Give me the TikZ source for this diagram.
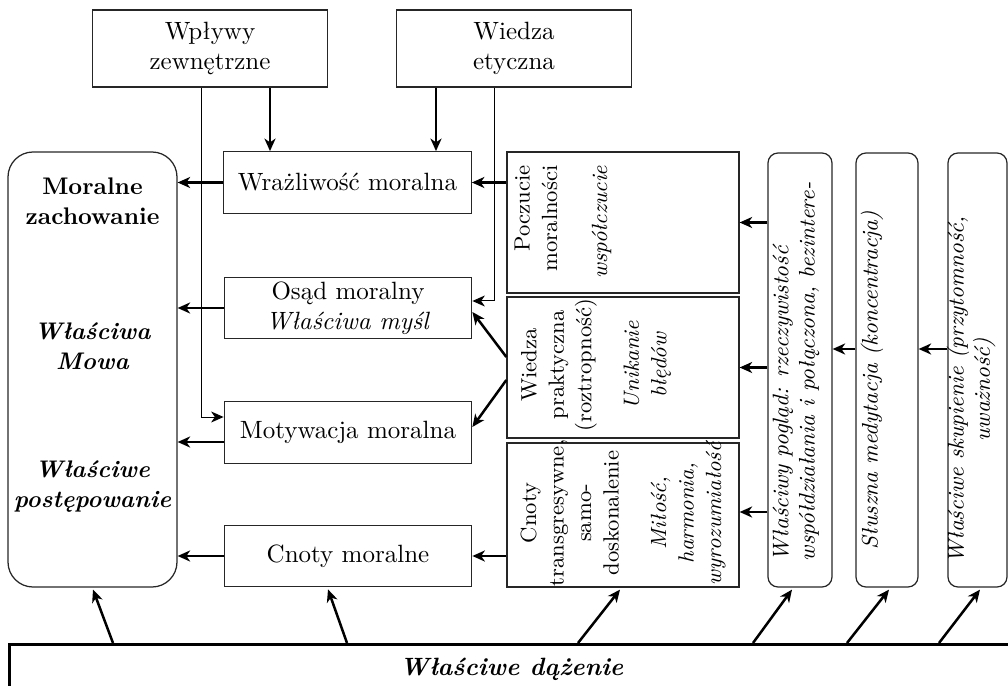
\documentclass[tikz,border=0pt]{standalone}
\usepackage{tikz}
\usetikzlibrary{arrows.meta, positioning, calc}
\tikzset{
  box_plain/.style={draw=black!85, line width=0.5pt, inner sep=0pt, align=center},
  box_round/.style={box_plain, rounded corners=4pt},
  top_box/.style={box_plain, minimum width=94pt, minimum height=30.8pt},
  mid_box/.style={box_plain, minimum width=99pt, minimum height=24.6pt},
  col_box/.style={box_plain, minimum width=92.8pt},
  path_box/.style={box_round, minimum width=25pt, minimum height=173.6pt},
  rot_text/.style={rotate=90, align=center, inner sep=0pt, font=\fontsize{8.8pt}{11pt}\selectfont},
  rot_italic/.style={rot_text, font=\fontsize{9pt}{10.5pt}\selectfont\itshape},
  morale_text/.style={align=center, font=\fontsize{9.6pt}{12pt}\selectfont\bfseries},
  morale_italic/.style={morale_text, font=\fontsize{9.6pt}{12pt}\selectfont\bfseries\itshape},
  arrow_thick/.style={line width=1pt, -{Stealth[length=5pt, width=4.4pt, inset=1.5pt]}},
  arrow_thin/.style={line width=0.4pt, -{Stealth[length=5pt, width=4.4pt, inset=1.5pt]}}
}

\begin{document}
\begin{tikzpicture}[x=0.4pt, y=-0.4pt]
\useasboundingbox (0,0) rectangle (1008,686);
% sources at the top
\node[top_box] (wplywy_node) at (210,48.5) {Wpływy\\zewnętrzne};
\node[top_box] (wiedza_node) at (514,48.5) {Wiedza\\etyczna};
% behaviour block
\node[box_plain, rounded corners=10pt, minimum width=67.6pt, minimum height=174pt] (morale_node) at (92.5,369.5) {};
\node[morale_text] (morale_txt_0) at (92.5,201) {Moralne\\zachowanie};
\node[morale_italic] (morale_txt_1) at (92.5,346) {Właściwa\\Mowa};
\node[morale_italic] (morale_txt_2) at (92.5,487) {Właściwe\\postępowanie};
% components
\node[mid_box] (wrazliwosc_node) at (347.5,182.5) {Wrażliwość moralna};
\node[mid_box] (osad_node) at (348,308) {Osąd moralny\\\textit{Właściwa myśl}};
\node[mid_box] (motywacja_node) at (348,432.5) {Motywacja moralna};
\node[mid_box] (cnoty_node) at (348,556) {Cnoty moralne};
% vertical boxes
\node[col_box, minimum height=56.4pt] (poczucie_node) at (623,222.5) {};
\node[rot_text, align=right] (poczucie_txt) at (563,222) {Poczucie\\moralności\\[9pt]\textit{współczucie}};
\node[col_box, minimum height=56.4pt] (praktyczna_node) at (623,367.5) {};
\node[rot_text] (praktyczna_txt) at (596,365) {Wiedza\\praktyczna\\(roztropność)\\[8pt]\textit{Unikanie}\\\textit{błędów}};
\node[col_box, minimum height=57.6pt] (transgresywne_node) at (623,515) {};
\node[rot_text] (transgresywne_txt) at (623,513) {Cnoty\\transgresywne,\\samo-\\doskonalenie\\[8pt]\textit{Miłość,}\\\textit{harmonia,}\\\textit{wyrozumiałość}};
% paths on the right
\node[path_box, minimum width=25.6pt] (poglad_node) at (800,370) {};
\node[rot_italic, align=left] (poglad_txt) at (796,372) {Właściwy pogląd: rzeczywistość\\współdziałania i połączona, bezintere-};
\node[path_box, minimum width=24.8pt] (sluszna_node) at (887,370) {};
\node[rot_italic] (sluszna_txt) at (872,380) {Słuszna medytacja (koncentracja)};
\node[path_box, minimum width=23.6pt] (skupienie_node) at (977.5,370) {};
\node[rot_italic] (skupienie_txt) at (971,390) {Właściwe skupienie (przytomność,\\uważność)};
% bottom
\node[draw, line width=1.2pt, minimum width=401.6pt, minimum height=20pt, inner sep=0pt, anchor=north west, font=\bfseries\itshape] (dazenie_node) at (8,643) {Właściwe dążenie};

% arrows from the top
\draw[arrow_thick] ($(wplywy_node.south)+(60,0)$) coordinate (wp_a) -- (wp_a |- wrazliwosc_node.north);
\draw[arrow_thick] ($(wiedza_node.south)+(-78,0)$) coordinate (wi_a) -- (wi_a |- wrazliwosc_node.north);
\draw[arrow_thin] ($(wplywy_node.south)+(-9,0)$) |- ($(motywacja_node.west)+(0,-15.5)$);
\draw[arrow_thin] ($(wiedza_node.south)+(-20,0)$) |- ($(osad_node.east)+(0,-7)$);
% into behaviour
\draw[arrow_thick] (wrazliwosc_node.west) -- (wrazliwosc_node.west -| morale_node.east);
\draw[arrow_thick] (osad_node.west) -- (osad_node.west -| morale_node.east);
\draw[arrow_thick] ($(motywacja_node.west)+(0,9.5)$) coordinate (mw_a) -- (mw_a -| morale_node.east);
\draw[arrow_thick] (cnoty_node.west) -- (cnoty_node.west -| morale_node.east);
% from the vertical boxes
\draw[arrow_thick] (wrazliwosc_node.east -| poczucie_node.west) -- (wrazliwosc_node.east);
\draw[arrow_thick] ($(praktyczna_node.west)+(0,-10.5)$) -- ($(osad_node.east)+(0,4)$);
\draw[arrow_thick] ($(praktyczna_node.west)+(0,12.5)$) -- ($(motywacja_node.east)+(0,-5.5)$);
\draw[arrow_thick] (cnoty_node.east -| transgresywne_node.west) -- (cnoty_node.east);
% from the paths
\draw[arrow_thick] (poczucie_node.east -| poglad_node.west) -- (poczucie_node.east);
\draw[arrow_thick] (praktyczna_node.east -| poglad_node.west) -- (praktyczna_node.east);
\draw[arrow_thick] ($(transgresywne_node.east)+(0,-3)$) coordinate (tr_a) (tr_a -| poglad_node.west) -- (tr_a);
\draw[arrow_thick] ($(sluszna_node.west)+(0,-21)$) coordinate (sl_a) -- (sl_a -| poglad_node.east);
\draw[arrow_thick] ($(skupienie_node.west)+(0,-21)$) coordinate (sk_a) -- (sk_a -| sluszna_node.east);
% from the bottom
\draw[arrow_thick] ($(dazenie_node.north west)+(105,0)$) -- ($(morale_node.south)+(0.5,2)$);
\draw[arrow_thick] ($(dazenie_node.north west)+(339,0)$) -- ($(cnoty_node.south)+(-20,2)$);
\draw[arrow_thick] ($(dazenie_node.north west)+(570,0)$) -- ($(transgresywne_node.south)+(-3,2)$);
\draw[arrow_thick] ($(dazenie_node.north west)+(745,0)$) -- ($(poglad_node.south)+(-8,2)$);
\draw[arrow_thick] ($(dazenie_node.north west)+(839,0)$) -- ($(sluszna_node.south)+(2,2)$);
\draw[arrow_thick] ($(dazenie_node.north west)+(931,0)$) -- ($(skupienie_node.south)+(2.5,2)$);
\end{tikzpicture}
\end{document}
